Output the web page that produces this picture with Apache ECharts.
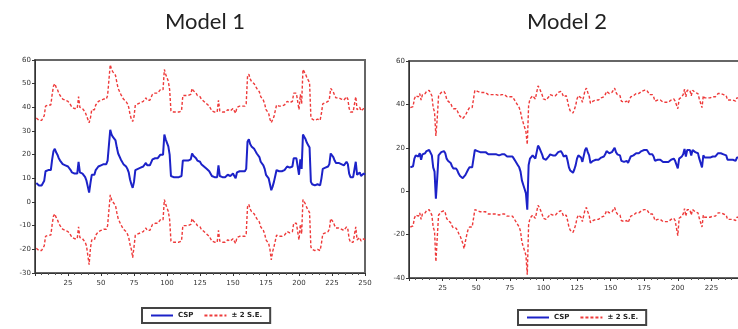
<!DOCTYPE html>
<html>
<head>
<meta charset="utf-8">
<script src="https://cdn.jsdelivr.net/npm/echarts@6/dist/echarts.min.js"></script>
<style>
html, body { margin: 0; padding: 0; background: #fff; }
#main { width: 738px; height: 329px; }
</style>
</head>
<body>
<div id="main"></div>
<script>
// observation index runs 1..250 in both panels
var xTicks = [25, 50, 75, 100, 125, 150, 175, 200, 225, 250];

// Model 1: recursive CSP estimate and its +/- 2 S.E. band
var m1Csp = [
  8, 7.5, 7, 7, 7, 6.5, 9, 13, 13.5, 13.5,
  13.5, 13.5, 18, 21.5, 22.5, 21, 20, 18.5, 17.5, 17,
  16, 16, 15.5, 16, 15, 15, 13.5, 12.5, 12.5, 12,
  12.5, 12, 17, 12.5, 12.5, 12, 11.5, 10.5, 9, 6.5,
  4, 8, 11.5, 11, 11.5, 13.5, 13, 15, 15.5, 15.5,
  15.5, 16, 15.5, 16, 17.5, 24, 30.5, 28.5, 27.5, 27,
  26, 23, 20.5, 20, 18, 17.5, 16, 15.5, 15, 14,
  12.5, 9.5, 7.5, 6, 8.5, 13.5, 13.5, 14, 14, 14.5,
  15, 15, 15.5, 16.5, 15.5, 15.5, 15.5, 15.5, 18, 18,
  18.5, 18, 18.5, 18.5, 20, 20, 20, 28.5, 26.5, 25,
  23.5, 20, 11, 10.5, 10.5, 10.5, 10.5, 10.5, 10.5, 10.5,
  11, 17.5, 17.5, 17.5, 17.5, 17.5, 18, 18, 20.5, 19.5,
  19, 18.5, 17.5, 17, 17, 16, 15.5, 15, 14.5, 14,
  13.5, 13, 13, 11, 10.5, 10.5, 10.5, 10.5, 15.5, 11,
  10.5, 10.5, 11, 10.5, 11, 11.5, 11, 11, 10.5, 12,
  11, 10, 12.5, 13, 13, 13.5, 13, 13, 13, 14,
  25.5, 26.5, 24.5, 23.5, 23, 22.5, 21.5, 20.5, 20.5, 19,
  17, 16.5, 15.5, 14, 11.5, 11, 10, 7.5, 5, 6.5,
  8.5, 11, 13.5, 13, 13, 13.5, 13, 13, 13.5, 13,
  15, 15, 14.5, 15, 15, 18.5, 19, 18.5, 18, 11.5,
  18, 14, 28.5, 28, 26.5, 25, 24, 23, 8.5, 7.5,
  7, 7, 7.5, 7.5, 7, 7, 10, 14, 14.5, 14.5,
  14.5, 15, 16, 20.5, 20, 19, 17.5, 16.5, 17, 16.5,
  17, 16, 16.5, 15.5, 16, 17, 16, 12, 10.5, 11,
  10.5, 11, 17, 11.5, 11, 12.5, 11, 11.5, 12, 11.5
];
var m1Upper = [
  35.5, 35, 34.5, 34.5, 34.5, 34, 36.5, 40.5, 41, 41,
  41, 41, 45.5, 49, 50, 48.5, 47.5, 46, 45, 44.5,
  43.5, 43.5, 43, 43.5, 42.5, 42.5, 41, 40, 40, 39.5,
  40, 39.5, 44.5, 40, 40, 39.5, 39, 38, 36.5, 35,
  33.5, 35.5, 39, 38.5, 39, 41, 40.5, 42.5, 43, 43,
  43, 43.5, 43, 43.5, 45, 51.5, 58, 56, 55, 54.5,
  53.5, 50.5, 48, 47.5, 45.5, 45, 43.5, 43, 42.5, 41.5,
  40, 37, 35, 34, 36, 41, 41, 41.5, 41.5, 42,
  42.5, 42.5, 43, 44, 43, 43, 43, 43, 45.5, 45.5,
  46, 45.5, 46, 46, 47.5, 47.5, 47.5, 56, 54, 52.5,
  51, 47.5, 38.5, 38, 38, 38, 38, 38, 38, 38,
  38.5, 45, 45, 45, 45, 45, 45.5, 45.5, 48, 47,
  46.5, 46, 45, 44.5, 44.5, 43.5, 43, 42.5, 42, 41.5,
  41, 40.5, 40.5, 38.5, 38, 38, 38, 38, 43, 38.5,
  38, 38, 38.5, 38, 38.5, 39, 38.5, 38.5, 38, 39.5,
  38.5, 37.5, 40, 40.5, 40.5, 41, 40.5, 40.5, 40.5, 41.5,
  53, 54, 52, 51, 50.5, 50, 49, 48, 48, 46.5,
  44.5, 44, 43, 41.5, 39, 38.5, 37.5, 35, 33.5, 34,
  36, 38.5, 41, 40.5, 40.5, 41, 40.5, 40.5, 41, 40.5,
  42.5, 42.5, 42, 42.5, 42.5, 46, 46.5, 46, 45.5, 39,
  45.5, 41.5, 56, 55.5, 54, 52.5, 51.5, 50.5, 36, 35,
  34.5, 34.5, 35, 35, 34.5, 34.5, 37.5, 41.5, 42, 42,
  42, 42.5, 43.5, 48, 47.5, 46.5, 45, 44, 44.5, 44,
  44.5, 43.5, 44, 43, 43.5, 44.5, 43.5, 39.5, 38, 38.5,
  38, 38.5, 44.5, 39, 38.5, 40, 38.5, 39, 39.5, 39
];
var m1Lower = [
  -19.5, -20, -20.5, -20.5, -20.5, -21, -18.5, -14.5, -14, -14,
  -14, -14, -9.5, -6, -5, -6.5, -7.5, -9, -10, -10.5,
  -11.5, -11.5, -12, -11.5, -12.5, -12.5, -14, -15, -15, -15.5,
  -15, -15.5, -10.5, -15, -15, -15.5, -16, -17, -18.5, -22.5,
  -26.5, -19.5, -16, -16.5, -16, -14, -14.5, -12.5, -12, -12,
  -12, -11.5, -12, -11.5, -10, -3.5, 3, 1, 0, -0.5,
  -1.5, -4.5, -7, -7.5, -9.5, -10, -11.5, -12, -12.5, -13.5,
  -15, -18, -20, -23.5, -19, -14, -14, -13.5, -13.5, -13,
  -12.5, -12.5, -12, -11, -12, -12, -12, -12, -9.5, -9.5,
  -9, -9.5, -9, -9, -7.5, -7.5, -7.5, 1, -1, -2.5,
  -4, -7.5, -16.5, -17, -17, -17, -17, -17, -17, -17,
  -16.5, -10, -10, -10, -10, -10, -9.5, -9.5, -7, -8,
  -8.5, -9, -10, -10.5, -10.5, -11.5, -12, -12.5, -13, -13.5,
  -14, -14.5, -14.5, -16.5, -17, -17, -17, -17, -12, -16.5,
  -17, -17, -16.5, -17, -16.5, -16, -16.5, -16.5, -17, -15.5,
  -16.5, -17.5, -15, -14.5, -14.5, -14, -14.5, -14.5, -14.5, -13.5,
  -2, -1, -3, -4, -4.5, -5, -6, -7, -7, -8.5,
  -10.5, -11, -12, -13.5, -16, -16.5, -17.5, -20, -24.5, -21,
  -19, -16.5, -14, -14.5, -14.5, -14, -14.5, -14.5, -14, -14.5,
  -12.5, -12.5, -13, -12.5, -12.5, -9, -8.5, -9, -9.5, -16,
  -9.5, -13.5, 1, 0.5, -1, -2.5, -3.5, -4.5, -19, -20,
  -20.5, -20.5, -20, -20, -20.5, -20.5, -17.5, -13.5, -13, -13,
  -13, -12.5, -11.5, -7, -7.5, -8.5, -10, -11, -10.5, -11,
  -10.5, -11.5, -11, -12, -11.5, -10.5, -11.5, -15.5, -17, -16.5,
  -17, -16.5, -10.5, -16, -16.5, -15, -16.5, -16, -15.5, -16
];

// Model 2
var m2Csp = [
  11, 10.5, 11.5, 15, 16.5, 17, 16, 17.5, 14.5, 17,
  17, 17.5, 18.5, 19, 19, 19, 16.5, 11, 9, -3.5,
  6, 16.5, 17, 18, 18.5, 18.5, 17.5, 15, 14, 13.5,
  13, 11.5, 10.5, 10, 10.5, 9.5, 8, 7, 6.5, 6,
  5.5, 7.5, 7.5, 10, 11, 11.5, 11, 15, 19, 19,
  18.5, 18.5, 18, 18.5, 18, 17.5, 18, 17.5, 17, 17.5,
  17, 17.5, 17, 16.5, 17, 17, 16.5, 17, 17, 16.5,
  17, 16.5, 16, 16, 16, 16, 16, 15, 14, 13,
  12, 11, 9, 5, 3, 1, -1, -8.5, 12, 15,
  15.5, 16.5, 16, 15, 18, 21, 20, 19.5, 17, 15,
  14.5, 14.5, 14, 16, 17, 17, 16.5, 17, 16.5, 17,
  18, 18.5, 18.5, 17.5, 16, 16, 16.5, 14, 11, 9.5,
  9, 8.5, 10, 12, 15, 16.5, 16.5, 15.5, 13.5, 14,
  19, 20, 18, 16.5, 13, 12.5, 14, 14.5, 14.5, 15,
  14.5, 15, 15.5, 15.5, 16, 17, 18.5, 18.5, 17.5, 18,
  18, 18, 20, 18, 17, 17, 16.5, 14, 13.5, 13.5,
  14, 14, 13, 14.5, 16, 16.5, 16.5, 17, 17.5, 17.5,
  17.5, 18, 18.5, 19, 19, 19.5, 19, 18.5, 17, 17,
  17, 16, 14, 14, 14.5, 15, 14.5, 14, 13.5, 14,
  13.5, 13, 13.5, 14, 14.5, 15, 15, 14, 13.5, 10.5,
  15, 15.5, 16, 17, 19.5, 16, 19, 18.5, 19, 16.5,
  19, 19, 18, 17.5, 17.5, 15, 13, 11, 16.5, 15.5,
  15.5, 15.5, 16, 15.5, 16, 16, 16, 16, 16, 17.5,
  17.5, 17.5, 17, 17, 17, 16.5, 14.5, 14.5, 14.5, 14,
  14.5, 15, 14, 15.5, 16, 15.5, 15, 16, 15.5, 15.5
];
var m2Upper = [
  38.5, 38, 39, 42.5, 44, 44.5, 43.5, 45, 42, 44.5,
  44.5, 45, 46, 46.5, 46.5, 46.5, 44, 38.5, 36.5, 25.5,
  33.5, 44, 44.5, 45.5, 46, 46, 45, 42.5, 41.5, 41,
  40.5, 39, 38, 37.5, 38, 37, 35.5, 34.5, 34, 33.5,
  33, 35, 35, 37.5, 38.5, 39, 38.5, 42.5, 46.5, 46.5,
  46, 46, 45.5, 46, 45.5, 45, 45.5, 45, 44.5, 45,
  44.5, 45, 44.5, 44, 44.5, 44.5, 44, 44.5, 44.5, 44,
  44.5, 44, 43.5, 43.5, 43.5, 43.5, 43.5, 42.5, 41.5, 40.5,
  39.5, 38.5, 36.5, 33.5, 31.5, 29.5, 27.5, 21.5, 39.5, 42.5,
  43, 44, 43.5, 42.5, 45.5, 48.5, 47.5, 47, 44.5, 42.5,
  42, 42, 41.5, 43.5, 44.5, 44.5, 44, 44.5, 44, 44.5,
  45.5, 46, 46, 45, 43.5, 43.5, 44, 41.5, 38.5, 37,
  36.5, 36, 37.5, 39.5, 42.5, 44, 44, 43, 41, 41.5,
  46.5, 47.5, 45.5, 44, 40.5, 40, 41.5, 42, 42, 42.5,
  42, 42.5, 43, 43, 43.5, 44.5, 46, 46, 45, 45.5,
  45.5, 45.5, 47.5, 45.5, 44.5, 44.5, 44, 41.5, 41, 41,
  41.5, 41.5, 40.5, 42, 43.5, 44, 44, 44.5, 45, 45,
  45, 45.5, 46, 46.5, 46.5, 47, 46.5, 46, 44.5, 44.5,
  44.5, 43.5, 41.5, 41.5, 42, 42.5, 42, 41.5, 41, 41.5,
  41, 40.5, 41, 41.5, 42, 42.5, 42.5, 41.5, 41, 38,
  42.5, 43, 43.5, 44.5, 47, 43.5, 46.5, 46, 46.5, 44,
  46.5, 46.5, 45.5, 45, 45, 42.5, 40.5, 38.5, 44, 43,
  43, 43, 43.5, 43, 43.5, 43.5, 43.5, 43.5, 43.5, 45,
  45, 45, 44.5, 44.5, 44.5, 44, 42, 42, 42, 41.5,
  42, 42.5, 41.5, 43, 43.5, 43, 42.5, 43.5, 43, 43
];
var m2Lower = [
  -16.5, -17, -16, -12.5, -11, -10.5, -11.5, -10, -13, -10.5,
  -10.5, -10, -9, -8.5, -8.5, -8.5, -11, -16.5, -18.5, -32.5,
  -21.5, -11, -10.5, -9.5, -9, -9, -10, -12.5, -13.5, -14,
  -14.5, -16, -17, -17.5, -17, -18, -19.5, -20.5, -21, -24,
  -26.5, -23, -20, -17.5, -16.5, -16, -16.5, -12.5, -8.5, -8.5,
  -9, -9, -9.5, -9, -9.5, -10, -9.5, -10, -10.5, -10,
  -10.5, -10, -10.5, -11, -10.5, -10.5, -11, -10.5, -10.5, -11,
  -10.5, -11, -11.5, -11.5, -11.5, -11.5, -11.5, -12.5, -13.5, -14.5,
  -15.5, -16.5, -18.5, -23.5, -25.5, -27.5, -29.5, -38.5, -15.5, -12.5,
  -12, -11, -11.5, -12.5, -9.5, -6.5, -7.5, -8, -10.5, -12.5,
  -13, -13, -13.5, -11.5, -10.5, -10.5, -11, -10.5, -11, -10.5,
  -9.5, -9, -9, -10, -11.5, -11.5, -11, -13.5, -16.5, -18,
  -18.5, -19, -17.5, -15.5, -12.5, -11, -11, -12, -14, -13.5,
  -8.5, -7.5, -9.5, -11, -14.5, -15, -13.5, -13, -13, -12.5,
  -13, -12.5, -12, -12, -11.5, -10.5, -9, -9, -10, -9.5,
  -9.5, -9.5, -7.5, -9.5, -10.5, -10.5, -11, -13.5, -14, -14,
  -13.5, -13.5, -14.5, -13, -11.5, -11, -11, -10.5, -10, -10,
  -10, -9.5, -9, -8.5, -8.5, -8, -8.5, -9, -10.5, -10.5,
  -10.5, -11.5, -13.5, -13.5, -13, -12.5, -13, -13.5, -14, -13.5,
  -14, -14.5, -14, -13.5, -13, -12.5, -12.5, -13.5, -14, -20.5,
  -12.5, -12, -11.5, -10.5, -8, -11.5, -8.5, -9, -8.5, -11,
  -8.5, -8.5, -9.5, -10, -10, -12.5, -14.5, -16.5, -11, -12,
  -12, -12, -11.5, -12, -11.5, -11.5, -11.5, -11.5, -11.5, -10,
  -10, -10, -10.5, -10.5, -10.5, -11, -13, -13, -13, -13.5,
  -13, -12.5, -13.5, -12, -11.5, -12, -12.5, -11.5, -12, -12
];

var cspColor = '#1c22c8';
var seColor = '#ee3a3a';

function pairs(arr) {
    return arr.map(function (v, i) { return [i + 1, v]; });
}

function makeX(gridIndex) {
    return {
        type: 'value',
        gridIndex: gridIndex,
        min: 0,
        max: 250,
        interval: 25,
        axisLine: { onZero: false, lineStyle: { color: '#333', width: 1 } },
        axisTick: { show: true, inside: false, length: 3, lineStyle: { color: '#333' } },
        minorTick: { show: true, splitNumber: 5, length: 2, lineStyle: { color: '#555' } },
        splitLine: { show: false },
        axisLabel: {
            fontSize: 7, color: '#333', margin: 7, fontFamily: 'DejaVu Sans',
            formatter: function (v) { return xTicks.indexOf(v) >= 0 ? String(v) : ''; }
        }
    };
}

function makeY(gridIndex, min, max, step) {
    return {
        type: 'value',
        gridIndex: gridIndex,
        min: min,
        max: max,
        interval: step,
        axisLine: { show: true, lineStyle: { color: '#333', width: 1 } },
        axisTick: { show: true, length: 3, lineStyle: { color: '#333' } },
        splitLine: { show: false },
        axisLabel: { fontSize: 7, color: '#333', margin: 4, fontFamily: 'DejaVu Sans' }
    };
}

function lineSeries(name, arr, idx, color, dashed) {
    return {
        name: name,
        type: 'line',
        xAxisIndex: idx,
        yAxisIndex: idx,
        data: pairs(arr),
        symbol: 'none',
        silent: true,
        animation: false,
        lineStyle: dashed
            ? { color: color, width: 1.4, type: [3, 2] }
            : { color: color, width: 2 },
        itemStyle: { color: color }
    };
}

var legendBase = {
    data: ['CSP', '± 2 S.E.'],
    orient: 'horizontal',
    itemWidth: 22,
    itemHeight: 8,
    itemGap: 10,
    padding: [4, 8],
    borderColor: '#444',
    borderWidth: 2,
    selectedMode: false,
    itemStyle: { opacity: 0, borderWidth: 0 },
    textStyle: { fontSize: 7, color: '#222', fontWeight: 'bold', fontFamily: 'DejaVu Sans' }
};

var chart = echarts.init(document.getElementById('main'));
chart.setOption({
    backgroundColor: '#fff',
    animation: false,
    title: [
        { text: 'Model 1', left: 200, top: 6, textAlign: 'center',
          textStyle: { fontFamily: 'Lato', fontWeight: 'normal', fontSize: 22, color: '#222' } },
        { text: 'Model 2', left: 562, top: 6, textAlign: 'center',
          textStyle: { fontFamily: 'Lato', fontWeight: 'normal', fontSize: 22, color: '#222' } }
    ],
    legend: [
        Object.assign({}, legendBase, { left: 142, top: 308 }),
        Object.assign({}, legendBase, { left: 518, top: 310 })
    ],
    grid: [
        { left: 35, top: 60, width: 330, height: 213, outerBoundsMode: 'none',
          show: true, borderColor: '#666', borderWidth: 2, backgroundColor: 'transparent' },
        { left: 409, top: 61, width: 336, height: 217, outerBoundsMode: 'none',
          show: true, borderColor: '#666', borderWidth: 2, backgroundColor: 'transparent' }
    ],
    xAxis: [makeX(0), makeX(1)],
    yAxis: [makeY(0, -30, 60, 10), makeY(1, -40, 60, 20)],
    series: [
        lineSeries('± 2 S.E.', m1Upper, 0, seColor, true),
        lineSeries('± 2 S.E.', m1Lower, 0, seColor, true),
        lineSeries('CSP', m1Csp, 0, cspColor, false),
        lineSeries('± 2 S.E.', m2Upper, 1, seColor, true),
        lineSeries('± 2 S.E.', m2Lower, 1, seColor, true),
        lineSeries('CSP', m2Csp, 1, cspColor, false)
    ]
});
</script>
</body>
</html>
